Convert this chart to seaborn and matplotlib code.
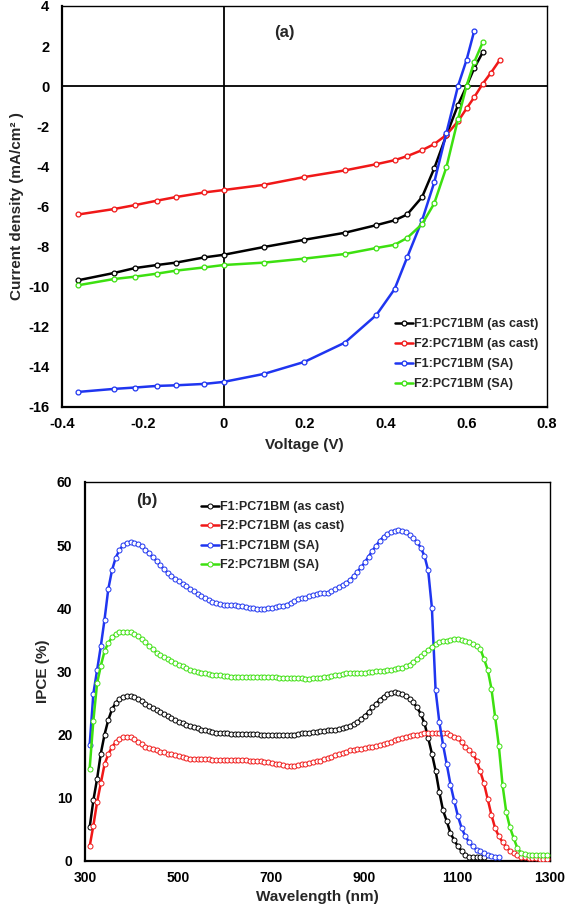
import numpy as np
import pandas as pd
import matplotlib
matplotlib.use("Agg")
import matplotlib.pyplot as plt
import seaborn as sns
from matplotlib.ticker import FuncFormatter

# ---- (a) J-V data ----
voltage = [-0.36, -0.272, -0.219, -0.165, -0.118, -0.048, 0.0, 0.1, 0.2, 0.3,
           0.378, 0.423, 0.454, 0.491, 0.521, 0.551, 0.58, 0.601, 0.62, 0.641,
           0.661, 0.683]
j_f1_cast = [-9.68, -9.32, -9.07, -8.92, -8.80, -8.54, -8.41, -8.02, -7.66, -7.31,
             -6.93, -6.69, -6.40, -5.53, -4.10, -2.45, -0.93, 0.0, 0.9, 1.69]
j_f2_cast = [-6.40, -6.13, -5.93, -5.71, -5.53, -5.30, -5.18, -4.92, -4.53, -4.20,
             -3.89, -3.69, -3.49, -3.19, -2.89, -2.43, -1.75, -1.11, -0.55, 0.12,
             0.66, 1.30]
j_f1_sa = [-15.25, -15.10, -15.03, -14.95, -14.92, -14.85, -14.75, -14.35, -13.75, -12.79,
           -11.41, -10.12, -8.54, -6.69, -4.80, -2.34, 0.02, 1.31, 2.76]
j_f2_sa = [-9.93, -9.62, -9.50, -9.35, -9.20, -9.04, -8.92, -8.80, -8.60, -8.37,
           -8.07, -7.91, -7.57, -6.88, -5.85, -4.05, -1.63, 0.02, 1.20, 2.19]

# ---- (b) IPCE data, measured every 8 nm from 310 nm ----
WL_START = 310
WL_STEP = 8
ipce_f1_cast = [5.3, 9.6, 13.0, 17.0, 20.0, 22.3, 24.0, 25.0, 25.6, 26.0,
                26.1, 26.1, 26.0, 25.7, 25.3, 24.9, 24.5, 24.2, 23.9, 23.6,
                23.3, 23.0, 22.6, 22.3, 22.0, 21.8, 21.6, 21.4, 21.2, 21.0,
                20.8, 20.7, 20.5, 20.4, 20.3, 20.3, 20.2, 20.2, 20.1, 20.1,
                20.1, 20.1, 20.1, 20.1, 20.1, 20.1, 20.0, 20.0, 20.0, 19.9,
                19.9, 19.9, 19.9, 19.9, 20.0, 20.0, 20.1, 20.2, 20.3, 20.3,
                20.4, 20.4, 20.5, 20.6, 20.7, 20.8, 20.8, 20.9, 21.0, 21.2,
                21.4, 21.7, 22.0, 22.5, 23.0, 23.6, 24.3, 24.9, 25.5, 26.0,
                26.4, 26.6, 26.7, 26.6, 26.4, 26.1, 25.7, 25.1, 24.3, 23.3,
                21.8, 19.5, 17.0, 14.3, 10.9, 8.0, 6.3, 4.4, 3.3, 2.3,
                1.6, 1.0, 0.7, 0.6, 0.6, 0.6, 0.6]
ipce_f2_cast = [2.3, 5.6, 9.3, 12.3, 15.3, 16.9, 18.0, 18.8, 19.3, 19.6,
                19.7, 19.6, 19.3, 18.9, 18.5, 18.1, 17.9, 17.7, 17.5, 17.3,
                17.2, 17.0, 16.9, 16.8, 16.6, 16.5, 16.3, 16.2, 16.2, 16.1,
                16.1, 16.1, 16.1, 16.0, 16.0, 16.0, 16.0, 16.0, 16.0, 16.0,
                16.0, 16.0, 16.0, 15.9, 15.9, 15.8, 15.8, 15.7, 15.6, 15.5,
                15.4, 15.3, 15.2, 15.1, 15.1, 15.1, 15.2, 15.3, 15.4, 15.5,
                15.6, 15.8, 15.9, 16.1, 16.3, 16.5, 16.7, 16.9, 17.1, 17.3,
                17.5, 17.6, 17.7, 17.8, 17.9, 18.0, 18.1, 18.2, 18.3, 18.5,
                18.7, 18.9, 19.1, 19.3, 19.5, 19.7, 19.8, 19.9, 20.0, 20.1,
                20.2, 20.3, 20.3, 20.3, 20.3, 20.3, 20.2, 20.0, 19.7, 19.4,
                18.8, 18.0, 17.6, 17.0, 15.9, 14.2, 12.3, 9.8, 7.3, 5.2,
                3.9, 3.0, 2.2, 1.6, 1.2, 0.9, 0.7, 0.6, 0.5, 0.4,
                0.4, 0.3, 0.3, 0.3]
ipce_f1_sa = [18.3, 26.5, 30.2, 34.0, 38.2, 43.0, 46.0, 48.0, 49.2, 50.0,
              50.4, 50.5, 50.4, 50.2, 49.8, 49.3, 48.7, 48.1, 47.5, 46.8,
              46.2, 45.6, 45.1, 44.7, 44.3, 43.9, 43.5, 43.1, 42.7, 42.3,
              41.9, 41.6, 41.3, 41.0, 40.8, 40.7, 40.6, 40.5, 40.5, 40.5,
              40.4, 40.3, 40.2, 40.1, 40.0, 39.9, 39.9, 39.9, 40.0, 40.1,
              40.2, 40.3, 40.4, 40.6, 40.8, 41.1, 41.4, 41.6, 41.7, 41.9,
              42.1, 42.3, 42.4, 42.4, 42.5, 42.7, 43.0, 43.4, 43.7, 44.0,
              44.5, 45.1, 45.8, 46.5, 47.3, 48.2, 49.1, 49.9, 50.7, 51.3,
              51.8, 52.1, 52.3, 52.4, 52.3, 52.0, 51.6, 51.1, 50.5, 49.6,
              48.3, 46.0, 40.1, 27.0, 22.0, 18.4, 15.3, 12.1, 9.5, 7.1,
              5.2, 3.9, 3.0, 2.3, 1.8, 1.5, 1.2, 1.0, 0.8, 0.7,
              0.7]
ipce_f2_sa = [14.6, 22.2, 28.1, 30.9, 33.2, 34.5, 35.4, 35.9, 36.2, 36.3,
              36.3, 36.2, 36.0, 35.6, 35.1, 34.6, 34.0, 33.5, 33.0, 32.6,
              32.3, 32.0, 31.7, 31.4, 31.1, 30.8, 30.5, 30.3, 30.1, 29.9,
              29.8, 29.7, 29.6, 29.5, 29.5, 29.4, 29.3, 29.3, 29.2, 29.2,
              29.1, 29.1, 29.1, 29.1, 29.1, 29.1, 29.1, 29.1, 29.1, 29.1,
              29.1, 29.0, 29.0, 29.0, 28.9, 28.9, 28.9, 28.9, 28.8, 28.8,
              28.9, 28.9, 29.0, 29.1, 29.2, 29.3, 29.4, 29.5, 29.6, 29.7,
              29.7, 29.8, 29.8, 29.8, 29.8, 29.9, 29.9, 30.0, 30.0, 30.1,
              30.2, 30.3, 30.4, 30.5, 30.6, 30.8, 31.1, 31.5, 31.9, 32.4,
              32.9, 33.4, 33.9, 34.3, 34.6, 34.8, 34.9, 35.0, 35.1, 35.1,
              35.0, 34.8, 34.6, 34.3, 34.0, 33.6, 32.0, 30.3, 27.3, 22.8,
              18.2, 12.0, 7.7, 5.3, 3.6, 2.0, 1.3, 1.1, 1.0, 1.0,
              1.0, 1.0, 1.0, 1.0]

labels = ["F1:PC71BM (as cast)", "F2:PC71BM (as cast)",
          "F1:PC71BM (SA)", "F2:PC71BM (SA)"]
colors = ["#000000", "#f01818", "#1f35f0", "#3de010"]

sns.set_style("white")
plt.rcParams["font.family"] = ["Liberation Sans", "DejaVu Sans"]
plt.rcParams["font.weight"] = "bold"
plt.rcParams["axes.unicode_minus"] = False

fig = plt.figure(figsize=(5.67, 9.08), dpi=100)
ax1 = fig.add_axes([0.1093, 0.5518, 0.8554, 0.4416])
ax2 = fig.add_axes([0.1499, 0.0518, 0.8201, 0.4174])

fmt = FuncFormatter(lambda v, p: "%g" % round(v, 6))


def style_axes(ax, size=10.5):
    for side in ["left", "bottom"]:
        ax.spines[side].set_linewidth(1.6)
    for side in ["top", "right"]:
        ax.spines[side].set_linewidth(1.0)
    for s in ax.spines.values():
        s.set_color("black")
    ax.tick_params(direction="in", length=3.5, width=1.2, labelsize=size,
                   colors="black")
    ax.tick_params(axis="y", pad=9)
    ax.tick_params(axis="x", pad=7)
    for t in ax.get_xticklabels() + ax.get_yticklabels():
        t.set_fontweight("bold")


# (a)
jv = [j_f1_cast, j_f2_cast, j_f1_sa, j_f2_sa]
ax1.axhline(0, color="black", lw=1.3, zorder=1)
ax1.axvline(0, color="black", lw=1.3, zorder=1)
for j, lab, c in zip(jv, labels, colors):
    df = pd.DataFrame({"V": voltage[:len(j)], "J": j})
    sns.lineplot(data=df, x="V", y="J", ax=ax1, color=c, lw=1.8, label=lab,
                 marker="o", markersize=3.5, markerfacecolor="white",
                 markeredgecolor=c, markeredgewidth=0.9, sort=False, zorder=3)
ax1.set_xlim(-0.4, 0.8)
ax1.set_ylim(-16, 4)
ax1.set_xticks(np.arange(-0.4, 0.81, 0.2))
ax1.set_yticks(np.arange(-16, 5, 2))
ax1.xaxis.set_major_formatter(fmt)
ax1.yaxis.set_major_formatter(fmt)
ax1.set_xlabel("Voltage (V)", fontsize=11, fontweight="bold", labelpad=5)
ax1.set_ylabel("Current density (mA/cm² )", fontsize=11, fontweight="bold", labelpad=3)
ax1.text(0.458, 0.935, "(a)", transform=ax1.transAxes, fontsize=12,
         fontweight="bold", ha="center", va="center")
ax1.legend(loc="upper left", bbox_to_anchor=(0.687, 0.222), frameon=False,
           fontsize=9, handlelength=1.4, handletextpad=0.1, labelspacing=0.65,
           borderaxespad=0, borderpad=0)
style_axes(ax1)

# (b)
ipce = [ipce_f1_cast, ipce_f2_cast, ipce_f1_sa, ipce_f2_sa]
for y, lab, c in zip(ipce, labels, colors):
    wl = WL_START + WL_STEP * np.arange(len(y))
    df = pd.DataFrame({"wl": wl, "ipce": y})
    sns.lineplot(data=df, x="wl", y="ipce", ax=ax2, color=c, lw=1.8, label=lab,
                 marker="o", markersize=3.6, markerfacecolor="white",
                 markeredgecolor=c, markeredgewidth=0.7, zorder=3)
ax2.set_xlim(300, 1300)
ax2.set_ylim(0, 60)
ax2.set_xticks(np.arange(300, 1301, 200))
ax2.set_yticks(np.arange(0, 61, 10))
ax2.set_xlabel("Wavelength (nm)", fontsize=11, fontweight="bold", labelpad=4)
ax2.set_ylabel("IPCE (%)", fontsize=11, fontweight="bold", labelpad=5)
ax2.text(0.133, 0.952, "(b)", transform=ax2.transAxes, fontsize=12,
         fontweight="bold", ha="center", va="center")
ax2.legend(loc="upper left", bbox_to_anchor=(0.250, 0.950), frameon=False,
           fontsize=9, handlelength=1.4, handletextpad=0.1, labelspacing=0.6,
           borderaxespad=0, borderpad=0)
style_axes(ax2, size=10)

fig.savefig("out.png", dpi=100)
